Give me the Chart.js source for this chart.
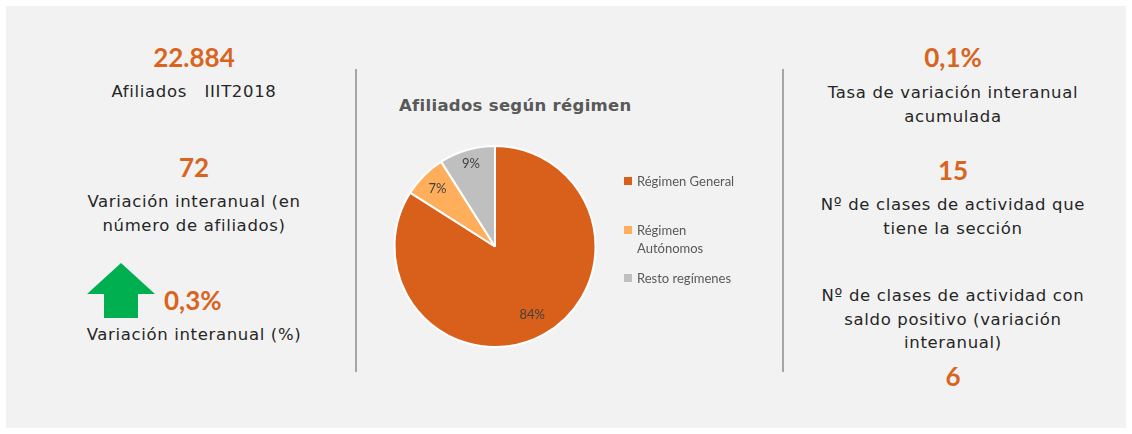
<!DOCTYPE html>
<html>
<head>
<meta charset="utf-8">
<script src="https://cdn.jsdelivr.net/npm/chart.js@4.4.1/dist/chart.umd.min.js"></script>
<style>
  html, body { margin: 0; padding: 0; background: #ffffff; }
  body { width: 1132px; height: 434px; position: relative; overflow: hidden; }
  #panel { position: absolute; left: 6px; top: 6px; width: 1120px; height: 422px; background: #f2f2f2; }
  .sep { position: absolute; width: 2px; background: #a6a6a6; top: 69px; height: 303px; }
  .kpi { position: absolute; text-align: center; white-space: nowrap; }
  .num { font-family: "Lato", "Open Sans", sans-serif; font-weight: 700; color: #d9641e; font-size: 26px; line-height: 30px; }
  .lbl { font-family: "DejaVu Sans", sans-serif; color: #262626; font-size: 16.5px; letter-spacing: 0.65px; line-height: 23.5px; }
  #title { position: absolute; left: 399px; top: 96px; font-family: "DejaVu Sans", sans-serif; font-weight: 700; font-size: 16.5px; letter-spacing: 0.3px; color: #595959; white-space: nowrap; }
  #chartBox { position: absolute; left: 380px; top: 90px; width: 400px; height: 270px; }
  .leg { position: absolute; left: 624px; font-family: "Lato", "Open Sans", sans-serif; font-size: 13px; color: #595959; line-height: 18px; }
  .leg .sw { position: absolute; left: 0; top: 5px; width: 8px; height: 8px; }
  .leg .tx { position: absolute; left: 13px; top: 0; width: 110px; }
  #arrow { position: absolute; left: 0; top: 0; }
</style>
</head>
<body>
<div id="panel"></div>
<div class="sep" style="left:355px"></div>
<div class="sep" style="left:782px"></div>

<!-- left column -->
<div class="kpi num" style="left:94px;width:200px;top:42px">22.884</div>
<div class="kpi lbl" style="left:44px;width:300px;top:80px">Afiliados&nbsp;&nbsp;&nbsp;IIIT2018</div>
<div class="kpi num" style="left:94px;width:200px;top:152px">72</div>
<div class="kpi lbl" style="left:44px;width:300px;top:190px">Variación interanual (en<br>número de afiliados)</div>
<svg id="arrow" width="200" height="330" style="left:0;top:0">
  <polygon points="87,294 121,263 155,294 138,294 138,318 104,318 104,294" fill="#00b050"/>
</svg>
<div class="kpi num" style="left:164px;width:70px;top:285px;text-align:left">0,3%</div>
<div class="kpi lbl" style="left:44px;width:300px;top:323px">Variación interanual (%)</div>

<!-- right column -->
<div class="kpi num" style="left:853px;width:200px;top:42px">0,1%</div>
<div class="kpi lbl" style="left:803px;width:300px;top:81px">Tasa de variación interanual<br>acumulada</div>
<div class="kpi num" style="left:853px;width:200px;top:155px">15</div>
<div class="kpi lbl" style="left:803px;width:300px;top:193px">Nº de clases de actividad que<br>tiene la sección</div>
<div class="kpi lbl" style="left:803px;width:300px;top:284px">Nº de clases de actividad con<br>saldo positivo (variación<br>interanual)</div>
<div class="kpi num" style="left:853px;width:200px;top:361px">6</div>

<!-- pie -->
<div id="title">Afiliados según régimen</div>
<div id="chartBox"><canvas id="c" width="400" height="270"></canvas></div>
<div id="legend"></div>

<script>
const categories = ["Régimen General", "Régimen Autónomos", "Resto regímenes"];
const shares = [84, 7, 9];
const shareLabels = ["84%", "7%", "9%"];
const sliceColors = ["#d9601a", "#ffae5c", "#bfbfbf"];

const labelPlugin = {
  id: 'sliceLabels',
  afterDatasetsDraw(chart) {
    const ctx = chart.ctx;
    const meta = chart.getDatasetMeta(0);
    const factors = [0.77, 0.81, 0.86];
    ctx.save();
    ctx.font = '13px Lato, "Open Sans", sans-serif';
    ctx.fillStyle = '#404040';
    ctx.textAlign = 'center';
    ctx.textBaseline = 'middle';
    meta.data.forEach((arc, i) => {
      const p = arc.getProps(['x', 'y', 'startAngle', 'endAngle', 'outerRadius'], true);
      const mid = (p.startAngle + p.endAngle) / 2;
      const r = p.outerRadius * factors[i];
      ctx.fillText(shareLabels[i], p.x + Math.cos(mid) * r, p.y + Math.sin(mid) * r);
    });
    ctx.restore();
  }
};

const chart = new Chart(document.getElementById('c'), {
  type: 'pie',
  data: {
    labels: categories,
    datasets: [{
      data: shares,
      backgroundColor: sliceColors,
      borderColor: '#ffffff',
      borderWidth: 2
    }]
  },
  options: {
    responsive: false,
    animation: false,
    devicePixelRatio: 1,
    layout: { padding: { left: 13, right: 183, top: 55, bottom: 12 } },
    plugins: {
      legend: { display: false },
      tooltip: { enabled: false },
      title: { display: false }
    }
  },
  plugins: [labelPlugin]
});

// HTML legend built from the chart data
const legendTops = [172, 221, 269];
const legendTexts = ["Régimen General", "Régimen<br>Autónomos", "Resto regímenes"];
const legendEl = document.getElementById('legend');
chart.data.labels.forEach((lab, i) => {
  const d = document.createElement('div');
  d.className = 'leg';
  d.style.top = legendTops[i] + 'px';
  d.innerHTML = '<span class="sw" style="background:' + chart.data.datasets[0].backgroundColor[i] + '"></span><span class="tx">' + legendTexts[i] + '</span>';
  legendEl.appendChild(d);
});
</script>
</body>
</html>
